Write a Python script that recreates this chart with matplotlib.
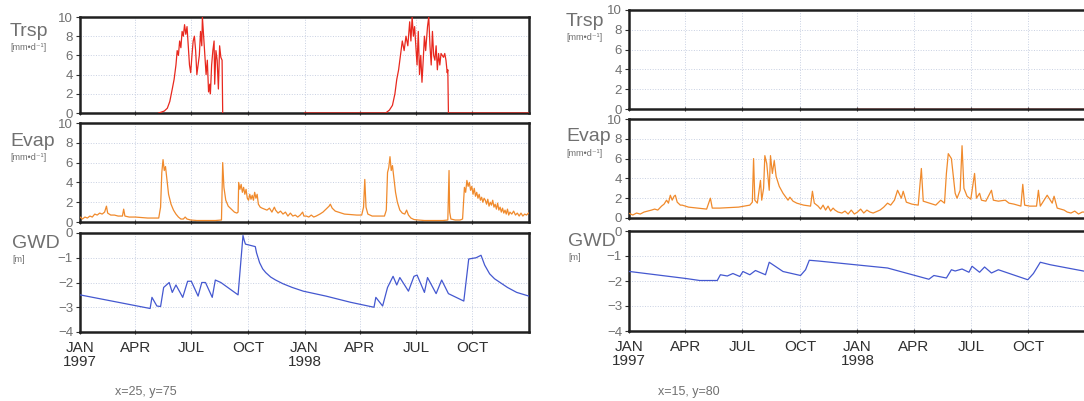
import numpy as np
import matplotlib
matplotlib.use("Agg")
from matplotlib import pyplot as plt

plt.rcParams['font.family'] = ['Liberation Sans', 'DejaVu Sans']

# day of record, counted from 1 Jan 1997
# ---- left column: x=25, y=75
trsp_l_day = [128, 137, 142, 146, 150, 153, 156, 158, 160, 162, 164, 166, 168, 170, 172, 174, 176, 178, 180,
              182, 184, 186, 188, 190, 192, 194, 196, 198, 199, 201, 203, 205, 207, 209, 211, 212, 214, 216,
              218, 219, 221, 223, 225, 227, 229, 231, 232, 233,
              365, 497, 503, 508, 512, 515, 518, 521, 524, 527, 530, 533, 536, 538, 540, 542, 544, 546, 548,
              550, 552, 554, 556, 558, 560, 562, 565, 567, 569, 571, 573, 575, 577, 579, 581, 583, 585, 587,
              589, 591, 593, 595, 597, 598, 599, 730]
trsp_l_val = [0, 0.2, 0.5, 1.2, 2.5, 3.5, 5, 6.5, 6, 7.5, 6.8, 8.5, 8, 9.2, 8.2, 9, 7, 5, 4.2,
              6, 7.5, 8, 6.5, 4, 5, 6, 8.5, 7, 10, 8, 6, 4, 5.5, 2.2, 3, 2, 5, 6.5,
              7.5, 3, 6.5, 5.5, 2.5, 7, 5.8, 5.5, 0, np.nan,
              0, 0, 0.3, 0.8, 2, 3.5, 4.5, 6, 7.5, 6.5, 8, 7, 9.5, 7.5, 10, 8, 9, 7, 5,
              8.5, 4, 6, 3.2, 5.5, 8, 6.5, 9, 10, 7, 5, 8.5, 6, 5.5, 7, 4.5, 6.2, 5, 6.2,
              6, 5.8, 6.2, 5.5, 4.2, 4.5, 0, 0]

evap_l_day = [0, 4, 8, 12, 16, 20, 24, 28, 32, 36, 40, 43, 45, 50, 56, 62, 69, 71, 73, 80, 90, 100, 110, 120,
              128, 131, 133, 135, 137, 139, 141, 144, 148, 152, 156, 160, 164, 168, 171, 174, 180, 190, 200,
              210, 220, 230, 232, 234, 237, 241, 246, 251, 255, 257, 258, 260, 262, 264, 266, 268, 270, 272,
              274, 276, 278, 280, 282, 284, 286, 288, 290, 293, 296, 300, 304, 308, 312, 316, 318, 322, 326,
              330, 334, 338, 342, 346, 350, 354, 358, 362, 364, 368, 372, 376, 380, 384, 390, 395, 400, 405,
              407, 410, 415, 420, 430, 440, 450, 458, 461, 463, 465, 468, 475, 485, 495, 498, 500, 502, 504,
              506, 508, 510, 513, 516, 520, 524, 528, 531, 534, 538, 543, 550, 560, 570, 580, 590, 598, 600,
              601, 603, 610, 618, 622, 624, 625, 627, 629, 631, 633, 635, 637, 639, 641, 643, 645, 647, 649,
              651, 653, 655, 657, 659, 661, 663, 665, 667, 669, 671, 673, 675, 677, 679, 681, 683, 685, 687,
              689, 691, 693, 695, 697, 699, 702, 705, 708, 711, 714, 717, 720, 723, 726, 729]
evap_l_val = [0.5, 0.3, 0.5, 0.4, 0.6, 0.5, 0.8, 0.7, 0.9, 0.8, 1.0, 1.6, 0.9, 0.7, 0.7, 0.6, 0.6, 1.3, 0.6,
              0.5, 0.5, 0.45, 0.4, 0.4, 0.4, 1.5, 5, 6.3, 5.2, 5.6, 4.5, 2.8, 1.8, 1.2, 0.8, 0.5, 0.3, 0.3,
              0.5, 0.3, 0.2, 0.15, 0.15, 0.15, 0.15, 0.2, 6.0, 3.5, 2.2, 1.6, 1.3, 1.0, 0.9, 1.0, 4.0, 3.3,
              3.8, 3.0, 3.5, 2.8, 3.3, 2.4, 2.2, 2.8, 2.3, 2.7, 2.2, 3.0, 2.4, 2.8, 1.8, 1.5, 1.4, 1.3, 1.2,
              1.4, 1.0, 1.5, 1.2, 0.9, 1.1, 0.8, 1.0, 0.6, 0.9, 0.6, 0.7, 0.5, 0.7, 1.0, 0.6, 0.6, 0.5, 0.7,
              0.5, 0.6, 0.8, 1.0, 1.3, 1.6, 1.8, 1.4, 1.1, 1.0, 0.8, 0.75, 0.7, 0.7, 1.5, 4.3, 1.5, 0.8, 0.6,
              0.6, 0.6, 1.2, 5.0, 5.5, 6.6, 5.2, 5.7, 4.6, 3.0, 2.0, 1.2, 0.9, 0.8, 1.2, 0.7, 0.4, 0.25, 0.2,
              0.15, 0.15, 0.15, 0.15, 0.2, 5.2, 1.0, 0.3, 0.2, 0.2, 0.3, 2.5, 3.5, 3.0, 4.2, 3.6, 4.0, 3.2,
              3.6, 2.8, 3.4, 2.6, 3.0, 2.4, 2.8, 2.2, 2.5, 2.0, 2.4, 2.2, 1.8, 2.3, 1.6, 2.0, 1.7, 2.2, 1.5,
              1.8, 1.3, 1.9, 1.2, 1.5, 1.0, 1.4, 0.9, 1.2, 0.8, 1.3, 0.7, 1.0, 0.8, 1.1, 0.7, 0.9, 0.6, 0.9,
              0.6, 0.8, 0.7, 0.9]

gwd_l_day = [0, 114, 117, 125, 131, 136, 145, 150, 156, 167, 175, 181, 192, 198, 204, 215, 220, 229, 257, 265,
             267, 269, 277, 285, 287, 292, 297, 302, 310, 318, 330, 345, 363, 400, 440, 478, 481, 492, 500,
             509, 515, 520, 534, 543, 548, 560, 565, 579, 588, 599, 624, 632, 644, 652, 658, 666, 674, 683,
             695, 710, 730]
gwd_l_val = [-2.5, -3.05, -2.6, -2.95, -2.97, -2.2, -2.0, -2.4, -2.1, -2.6, -1.95, -1.95, -2.55, -2.0, -2.0,
             -2.6, -1.9, -2.0, -2.5, -0.1, -0.3, -0.45, -0.5, -0.55, -0.8, -1.2, -1.45, -1.6, -1.78, -1.9,
             -2.05, -2.2, -2.35, -2.55, -2.8, -3.0, -2.6, -2.95, -2.2, -1.75, -2.1, -1.8, -2.35, -1.75, -1.7,
             -2.4, -1.8, -2.45, -1.9, -2.45, -2.75, -1.05, -1.0, -0.9, -1.3, -1.65, -1.85, -2.0, -2.2, -2.4,
             -2.55]

# ---- right column: x=15, y=80
trsp_r_day = [365, 730]
trsp_r_val = [0, 0]

evap_r_day = [1, 6, 12, 18, 24, 30, 36, 41, 46, 52, 56, 60, 63, 66, 69, 72, 74, 77, 82, 85, 95, 110, 124, 130,
              133, 145, 160, 175, 193, 197, 199, 201, 205, 210, 212, 215, 217, 220, 224, 226, 229, 232, 235,
              240, 246, 254, 257, 262, 268, 279, 290, 293, 296, 302, 306, 310, 314, 318, 322, 326, 329, 334,
              340, 345, 350, 355, 360, 365, 370, 375, 380, 385, 390, 401, 407, 413, 418, 424, 429, 435, 438,
              443, 452, 462, 467, 470, 480, 490, 498, 504, 507, 510, 515, 521, 524, 529, 532, 535, 540, 546,
              552, 555, 560, 563, 570, 579, 582, 590, 601, 607, 615, 626, 629, 632, 640, 651, 654, 657, 668,
              676, 679, 684, 695, 700, 706, 712, 718, 724, 729]
evap_r_val = [0.45, 0.3, 0.5, 0.4, 0.6, 0.7, 0.8, 0.9, 0.8, 1.2, 1.4, 1.8, 1.5, 2.3, 1.8, 2.2, 2.3, 1.6, 1.3,
              1.3, 1.1, 1.0, 0.9, 2.0, 1.0, 1.0, 1.05, 1.1, 1.3, 1.6, 6.0, 1.8, 1.5, 3.8, 1.8, 3.0, 6.3, 5.5,
              2.8, 6.3, 4.5, 5.8, 4.2, 3.2, 2.5, 1.8, 2.1, 1.7, 1.5, 1.3, 1.2, 2.7, 1.5, 1.2, 0.9, 1.3, 0.8,
              1.2, 0.7, 1.0, 0.8, 0.6, 0.5, 0.7, 0.4, 0.8, 0.4, 0.6, 0.9, 0.5, 0.8, 0.6, 0.5, 0.8, 1.1, 1.5,
              1.3, 1.8, 2.8, 2.0, 2.7, 1.6, 1.4, 1.3, 5.0, 1.7, 1.5, 1.3, 1.8, 1.5, 4.5, 6.5, 6.0, 2.5, 2.0,
              2.8, 7.3, 3.0, 2.2, 1.9, 4.5, 2.0, 2.5, 1.8, 1.7, 2.8, 1.8, 1.7, 1.8, 1.5, 1.4, 1.2, 3.4, 1.3,
              1.2, 1.2, 2.8, 1.2, 2.3, 1.5, 2.2, 1.0, 0.8, 0.6, 0.5, 0.7, 0.4, 0.6, 0.6]

gwd_r_day = [1, 91, 113, 141, 146, 157, 166, 177, 182, 193, 202, 218, 224, 246, 274, 282, 288, 302, 413, 479,
             487, 507, 515, 521, 532, 543, 548, 560, 568, 579, 590, 637, 646, 657, 673, 730]
gwd_r_val = [-1.62, -1.9, -1.98, -1.98, -1.75, -1.8, -1.7, -1.82, -1.62, -1.75, -1.58, -1.75, -1.25, -1.62,
             -1.78, -1.55, -1.17, -1.2, -1.48, -1.93, -1.78, -1.88, -1.55, -1.6, -1.52, -1.65, -1.41, -1.65,
             -1.44, -1.68, -1.55, -1.95, -1.7, -1.25, -1.35, -1.62]

month_ticks = ['1997-01-01', '1997-04-01', '1997-07-01', '1997-10-01',
               '1998-01-01', '1998-04-01', '1998-07-01', '1998-10-01']
month_labels = ['JAN\n1997', 'APR', 'JUL', 'OCT', 'JAN\n1998', 'APR', 'JUL', 'OCT']

TXT = '#707070'
W, H = 1084, 401


def rect(x0, y0, x1, y1):
    return [x0 / W, 1 - y1 / H, (x1 - x0) / W, (y1 - y0) / H]


tick_days = [(np.datetime64(m) - np.datetime64('1997-01-01')).astype(int) for m in month_ticks]

fig = plt.figure(figsize=(W / 100, H / 100), dpi=100)


def panel(box, days, vals, color, ylim, yticks, bottom_labels=False, xmax=730):
    ax = fig.add_axes(rect(*box))
    ax.plot(days, vals, color=color, lw=0.9, zorder=4, clip_on=True)
    ax.set_xlim(0, xmax)
    ax.set_ylim(*ylim)
    ax.set_yticks(yticks)
    ax.set_xticks(tick_days)
    if bottom_labels:
        ax.set_xticklabels(month_labels, color=TXT, fontsize=11, linespacing=1.0)
    else:
        ax.set_xticklabels([])
    ax.tick_params(axis='y', labelsize=9.5, colors='#303030', labelcolor=TXT, length=3, pad=2, width=0.8)
    ax.tick_params(axis='x', colors='#303030', length=3, direction='inout', width=0.8, pad=5)
    ax.grid(True, ls=':', lw=0.7, color='#c8d0e2')
    for s in ax.spines.values():
        s.set_linewidth(1.8)
        s.set_color('#202020')
        s.set_zorder(3)
    return ax


def side_label(x, y, name, unit):
    fig.text(x / W, 1 - y / H, name, fontsize=14, color=TXT, ha='left', va='center')
    if unit:
        fig.text(x / W, 1 - (y + 16) / H, unit, fontsize=6.5, color=TXT, ha='left', va='center')


# left column
panel((80, 17, 529, 113), trsp_l_day, trsp_l_val, '#e8281e', (0, 10), [0, 2, 4, 6, 8, 10])
panel((80, 123, 529, 222), evap_l_day, evap_l_val, '#f08a2c', (0, 10), [0, 2, 4, 6, 8, 10])
panel((80, 233, 529, 332), gwd_l_day, gwd_l_val, '#4458d0', (-4, 0), [0, -1, -2, -3, -4], True)
side_label(10, 32, 'Trsp', '[mm•d⁻¹]')
side_label(10, 142, 'Evap', '[mm•d⁻¹]')
side_label(12, 243, 'GWD', '[m]')
fig.text(115 / W, 1 - 392 / H, 'x=25, y=75', fontsize=9, color=TXT, va='center')

# right column (runs a little past the edge of the page)
panel((629, 10, 1086, 109), trsp_r_day, trsp_r_val, '#e8281e', (0, 10), [0, 2, 4, 6, 8, 10])
panel((629, 119, 1086, 218), evap_r_day, evap_r_val, '#f08a2c', (0, 10), [0, 2, 4, 6, 8, 10])
panel((629, 231, 1086, 331), gwd_r_day, gwd_r_val, '#4458d0', (-4, 0), [0, -1, -2, -3, -4], True)
side_label(566, 22, 'Trsp', '[mm•d⁻¹]')
side_label(566, 137, 'Evap', '[mm•d⁻¹]')
side_label(568, 241, 'GWD', '[m]')
fig.text(658 / W, 1 - 392 / H, 'x=15, y=80', fontsize=9, color=TXT, va='center')

fig.savefig('out.png', dpi=100)
